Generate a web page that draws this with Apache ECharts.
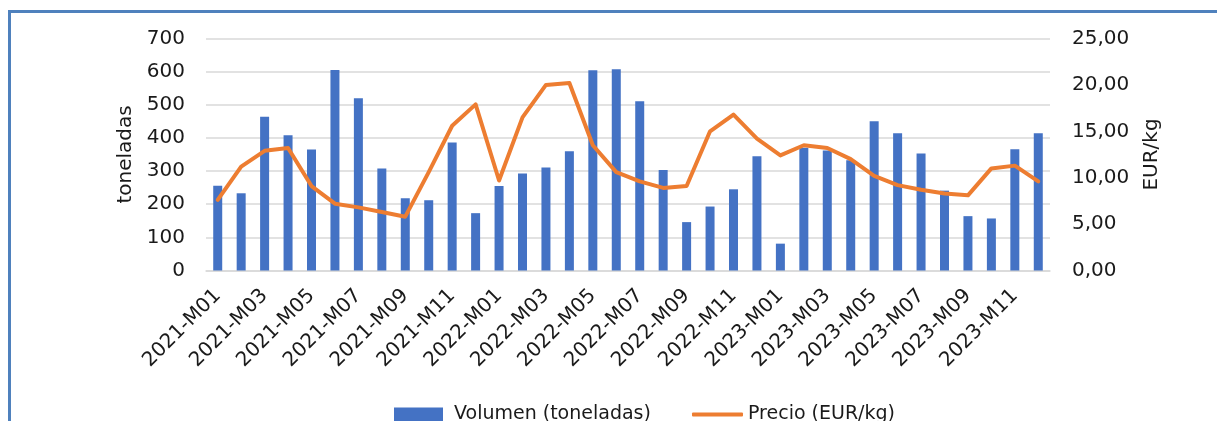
<!DOCTYPE html>
<html>
<head>
<meta charset="utf-8">
<script src="https://cdn.jsdelivr.net/npm/echarts@6/dist/echarts.min.js"></script>
<style>
  html, body { margin: 0; padding: 0; background: #ffffff; }
  #chart { width: 1217px; height: 421px; }
</style>
</head>
<body>
<div id="chart"></div>
<script>
// Monthly categories 2021-M01 .. 2023-M12
const months = [
  '2021-M01','2021-M02','2021-M03','2021-M04','2021-M05','2021-M06',
  '2021-M07','2021-M08','2021-M09','2021-M10','2021-M11','2021-M12',
  '2022-M01','2022-M02','2022-M03','2022-M04','2022-M05','2022-M06',
  '2022-M07','2022-M08','2022-M09','2022-M10','2022-M11','2022-M12',
  '2023-M01','2023-M02','2023-M03','2023-M04','2023-M05','2023-M06',
  '2023-M07','2023-M08','2023-M09','2023-M10','2023-M11','2023-M12'
];

// Volume in tonnes
const volumen = [
  256, 233, 464, 408, 365, 605, 520, 308, 218, 212, 386, 173,
  255, 293, 311, 360, 604, 607, 511, 303, 146, 193, 245, 345,
  81, 370, 362, 333, 450, 414, 353, 241, 164, 157, 366, 414
];

// Price in EUR/kg
const precio = [
  7.6, 11.2, 12.9, 13.2, 9.1, 7.2, 6.8, 6.3, 5.8, 10.6, 15.6, 17.9,
  9.7, 16.5, 20.0, 20.2, 13.5, 10.6, 9.6, 8.9, 9.1, 15.0, 16.8, 14.2,
  12.4, 13.5, 13.2, 12.0, 10.2, 9.2, 8.7, 8.3, 8.1, 11.0, 11.3, 9.6
];

const leftTicks = { min: 0, max: 700, interval: 100 };
const rightTicks = { min: 0, max: 25, interval: 5 };

const FONT = 'DejaVu Sans';
const TEXT = '#1a1a1a';
const BAR_COLOR = '#4472c4';
const LINE_COLOR = '#ed7d31';

const chart = echarts.init(document.getElementById('chart'), null, { renderer: 'canvas' });

chart.setOption({
  animation: false,
  textStyle: { fontFamily: FONT, color: TEXT },
  // blue frame along the left and top edges
  graphic: [
    { type: 'line', shape: { x1: 9.5, y1: 11, x2: 9.5, y2: 421 }, style: { stroke: '#4f81bd', lineWidth: 3 } },
    { type: 'line', shape: { x1: 8, y1: 11.5, x2: 1217, y2: 11.5 }, style: { stroke: '#4f81bd', lineWidth: 3 } }
  ],
  grid: { left: 206, right: 167, top: 38.5, bottom: 150.5, containLabel: false },
  legend: [
    {
      left: 394,
      top: 405,
      padding: 0,
      itemWidth: 49,
      itemHeight: 14,
      icon: 'rect',
      textStyle: { fontFamily: FONT, fontSize: 19, color: TEXT, padding: [0, 0, 0, 6] },
      data: ['Volumen (toneladas)']
    },
    {
      left: 692,
      top: 405,
      padding: 0,
      itemWidth: 51,
      itemHeight: 4,
      icon: 'roundRect',
      textStyle: { fontFamily: FONT, fontSize: 19, color: TEXT },
      data: ['Precio (EUR/kg)']
    }
  ],
  xAxis: {
    type: 'category',
    data: months,
    boundaryGap: true,
    axisLine: { lineStyle: { color: '#d9d9d9', width: 1.5 } },
    axisTick: { show: false },
    axisLabel: {
      interval: 1,
      rotate: 45,
      margin: 22,
      fontFamily: FONT,
      fontSize: 20,
      color: TEXT
    }
  },
  yAxis: [
    {
      type: 'value',
      min: leftTicks.min, max: leftTicks.max, interval: leftTicks.interval,
      name: 'toneladas',
      nameLocation: 'middle',
      nameGap: 68,
      nameTextStyle: { fontFamily: FONT, fontSize: 20, color: TEXT },
      axisLine: { show: false },
      axisTick: { show: false },
      axisLabel: { margin: 21, fontFamily: FONT, fontSize: 20, color: TEXT },
      splitLine: { lineStyle: { color: '#d9d9d9', width: 1.5 } }
    },
    {
      type: 'value',
      position: 'right',
      min: rightTicks.min, max: rightTicks.max, interval: rightTicks.interval,
      name: 'EUR/kg',
      nameLocation: 'middle',
      nameGap: 92,
      nameTextStyle: { fontFamily: FONT, fontSize: 20, color: TEXT },
      axisLine: { show: false },
      axisTick: { show: false },
      splitLine: { show: false },
      axisLabel: {
        margin: 22,
        fontFamily: FONT,
        fontSize: 20,
        color: TEXT,
        formatter: v => v.toFixed(2).replace('.', ',')
      }
    }
  ],
  series: [
    {
      name: 'Volumen (toneladas)',
      type: 'bar',
      yAxisIndex: 0,
      data: volumen,
      barWidth: 9,
      itemStyle: { color: BAR_COLOR },
      z: 2
    },
    {
      name: 'Precio (EUR/kg)',
      type: 'line',
      yAxisIndex: 1,
      data: precio,
      symbol: 'none',
      lineStyle: { color: LINE_COLOR, width: 4, cap: 'round', join: 'round' },
      itemStyle: { color: LINE_COLOR },
      z: 3
    }
  ]
});
</script>
</body>
</html>
